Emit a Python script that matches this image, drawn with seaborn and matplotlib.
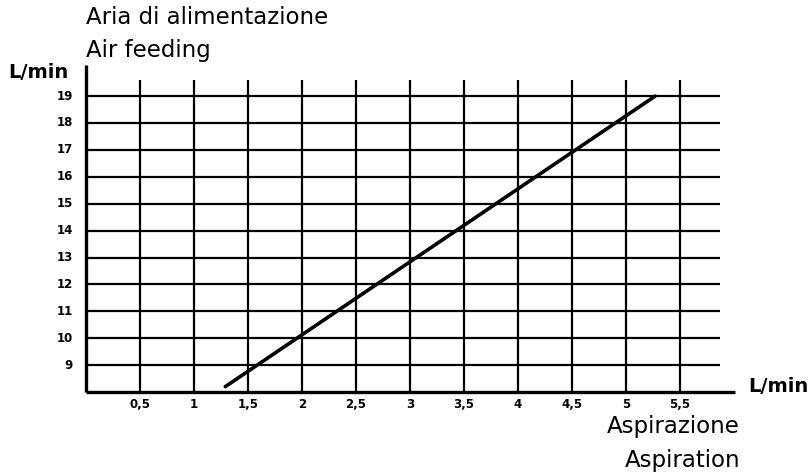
import matplotlib
matplotlib.use("Agg")
import numpy as np
import pandas as pd
import matplotlib.pyplot as plt
import seaborn as sns

# Data
aspiration = [1.29, 5.27]   # L/min (x)
air_feed = [8.2, 19.0]      # L/min (y)
x_ticks = [0.5, 1, 1.5, 2, 2.5, 3, 3.5, 4, 4.5, 5, 5.5]
x_labels = ["0,5", "1", "1,5", "2", "2,5", "3", "3,5", "4", "4,5", "5", "5,5"]
y_ticks = [9, 10, 11, 12, 13, 14, 15, 16, 17, 18, 19]

sns.set_style("white")
plt.rcParams["font.family"] = ["DejaVu Sans"]

W, H = 809, 475
fig = plt.figure(figsize=(W / 100, H / 100), dpi=100)
# axes placed so that x=0 -> 86px, 1 unit = 108px; y=8 -> 392px from top, 1 unit = 26.9px
x0, y0 = 86, H - 392
xmax, ymax = 6.0, 20.2
ax = fig.add_axes([x0 / W, y0 / H, xmax * 108 / W, (ymax - 8) * 26.9 / H])

# grid
for yv in y_ticks:
    ax.plot([0, 5.87], [yv, yv], color="black", lw=1.6, clip_on=False, solid_capstyle="butt")
for xv in x_ticks:
    ax.plot([xv, xv], [8, 19.6], color="black", lw=1.6, clip_on=False, solid_capstyle="butt")

# axes
ax.plot([0, 6.01], [8, 8], color="black", lw=2.4, clip_on=False, solid_capstyle="butt")
ax.plot([0, 0], [8, 20.15], color="black", lw=2.4, clip_on=False, solid_capstyle="butt")

# characteristic line
df = pd.DataFrame({"asp": aspiration, "air": air_feed})
sns.lineplot(data=df, x="asp", y="air", ax=ax, color="black", lw=2.6, legend=False)
ax.axis("off")
ax.set_xlim(0, xmax)
ax.set_ylim(8, ymax)

tick_font = dict(family="DejaVu Sans", fontweight="bold", fontsize=8.5, color="black")
for xv, lab in zip(x_ticks, x_labels):
    ax.text(xv, 7.55, lab, ha="center", va="center", **tick_font)
for yv in y_ticks:
    ax.text(-0.12, yv, str(yv), ha="right", va="center", **tick_font)

label_font = dict(family="DejaVu Sans", fontsize=16.5, fontweight="normal", color="black")
fig.text(86 / W, 1 - 18 / H, "Aria di alimentazione", ha="left", va="center", **label_font)
fig.text(86 / W, 1 - 50 / H, "Air feeding", ha="left", va="center", **label_font)
fig.text(740 / W, 1 - 427 / H, "Aspirazione", ha="right", va="center", **label_font)
fig.text(740 / W, 1 - 460 / H, "Aspiration", ha="right", va="center", **label_font)

unit_font = dict(family="DejaVu Sans", fontsize=14, fontweight="bold", color="black")
fig.text(38 / W, 1 - 73 / H, "L/min", ha="center", va="center", **unit_font)
fig.text(778 / W, 1 - 386 / H, "L/min", ha="center", va="center", **unit_font)

fig.savefig("out.png", dpi=100, facecolor="white")
